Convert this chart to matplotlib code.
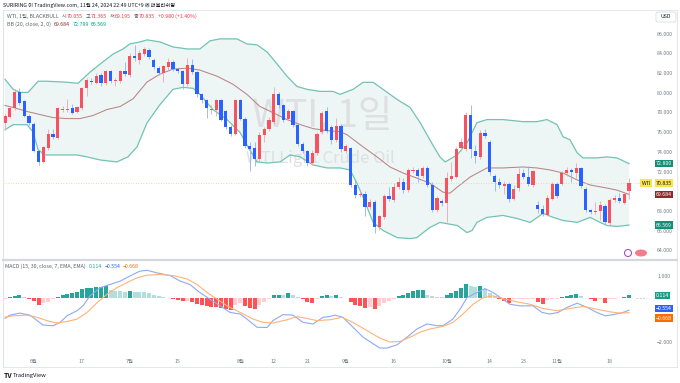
import matplotlib
matplotlib.use('Agg')
import matplotlib.pyplot as plt
import numpy as np
from matplotlib.lines import Line2D
from matplotlib.patches import Ellipse, FancyBboxPatch

plt.rcParams['font.family'] = ['Noto Sans CJK KR', 'DejaVu Sans']

# ---------------- data ----------------
opens = [76.94, 77.55, 78.48, 80.08, 79.16, 77.69, 76.84, 74.04, 73.02, 74.38,
         75.81, 75.41, 78.30, 78.30, 78.48, 78.03, 78.41, 80.45, 81.20, 81.03,
         81.78, 80.97, 82.20, 81.20, 81.20, 82.26, 81.82, 83.76, 83.35, 83.93,
         84.38, 83.35, 82.50, 81.96, 82.57, 83.08, 82.40, 82.16, 80.93, 82.84,
         82.06, 79.84, 79.26, 78.30, 78.30, 79.23, 78.13, 76.53, 75.85, 79.26,
         77.38, 74.62, 74.38, 73.26, 75.75, 76.29, 77.00, 79.84, 78.75, 77.38,
         78.20, 76.74, 74.83, 74.10, 72.85, 73.87, 75.98, 78.13, 76.53, 75.20,
         76.60, 74.14, 74.38, 70.63, 69.60, 69.70, 68.41, 68.92, 66.36, 67.38,
         69.50, 69.16, 70.39, 70.97, 70.12, 72.10, 72.16, 71.55, 72.40, 70.63,
         68.07, 69.06, 68.82, 71.21, 71.48, 74.35, 74.28, 77.79, 74.10, 73.53,
         75.92, 75.00, 71.58, 70.90, 70.56, 70.73, 69.26, 70.36, 71.82, 71.41,
         70.63, 68.58, 68.24, 67.63, 69.26, 70.73, 70.73, 71.82, 72.16, 71.89,
         72.33, 70.22, 68.07, 67.94, 67.97, 68.51, 66.77, 69.16, 69.37, 68.85,
         70.055]
highs = [77.80, 78.60, 80.35, 80.50, 79.30, 77.80, 77.00, 74.20, 74.60, 76.30,
         76.30, 78.60, 78.70, 79.40, 78.90, 78.70, 80.60, 81.50, 81.50, 82.00,
         82.00, 82.30, 82.30, 81.50, 82.30, 83.10, 84.00, 84.80, 84.30, 84.60,
         84.50, 83.50, 82.70, 82.80, 83.50, 83.30, 82.60, 82.30, 83.50, 83.40,
         82.20, 80.00, 79.40, 78.80, 79.40, 79.40, 78.30, 76.70, 79.40, 79.40,
         77.50, 75.00, 75.00, 76.00, 76.50, 77.50, 80.60, 80.10, 78.90, 78.40,
         78.30, 76.90, 75.00, 74.20, 74.20, 76.00, 78.10, 78.60, 76.70, 77.40,
         76.80, 74.80, 74.50, 71.20, 70.10, 70.00, 69.20, 69.10, 67.60, 69.70,
         70.40, 70.80, 71.50, 71.30, 72.40, 72.50, 72.40, 72.60, 72.60, 70.90,
         69.50, 69.20, 72.00, 73.00, 74.50, 75.40, 78.00, 78.80, 74.70, 76.20,
         76.30, 75.20, 71.80, 71.30, 71.00, 70.90, 70.60, 72.40, 72.30, 72.60,
         72.20, 69.00, 68.60, 69.60, 70.90, 70.90, 72.10, 72.50, 72.40, 72.90,
         72.50, 70.40, 68.20, 68.90, 69.00, 68.70, 69.30, 69.60, 69.80, 69.90,
         71.365]
lows = [76.20, 77.40, 78.30, 78.80, 77.50, 76.70, 74.00, 72.70, 72.85, 74.20,
        75.30, 75.30, 78.00, 78.00, 77.80, 77.90, 78.30, 79.70, 80.90, 80.90,
        80.70, 80.80, 81.00, 80.70, 81.00, 81.70, 81.60, 83.20, 82.90, 83.70,
        83.40, 82.40, 81.80, 81.10, 82.30, 82.20, 82.00, 80.40, 80.70, 81.90,
        79.60, 79.00, 77.40, 77.80, 77.60, 77.10, 76.30, 75.60, 75.70, 77.20,
        74.40, 72.10, 72.60, 73.10, 75.00, 76.10, 76.80, 78.50, 77.00, 77.20,
        76.50, 74.60, 73.90, 72.60, 72.70, 73.70, 75.80, 75.90, 74.80, 75.00,
        74.00, 73.90, 70.40, 69.30, 69.40, 67.50, 68.20, 65.80, 66.10, 67.20,
        69.00, 68.90, 70.20, 69.80, 69.90, 71.90, 70.90, 71.30, 70.40, 67.90,
        67.90, 68.50, 66.90, 71.00, 71.30, 74.10, 74.10, 73.40, 72.90, 73.30,
        75.40, 71.70, 70.00, 70.30, 69.70, 68.90, 69.10, 70.00, 71.20, 70.50,
        70.40, 67.80, 67.50, 67.50, 69.10, 69.30, 70.60, 71.60, 70.90, 71.40,
        70.30, 67.90, 67.70, 67.70, 67.10, 66.70, 66.60, 68.90, 68.80, 68.70,
        69.195]
closes = [77.62, 78.48, 80.08, 78.99, 77.69, 76.94, 74.14, 73.02, 74.45, 75.81,
          75.51, 78.41, 78.35, 78.40, 77.96, 78.54, 80.45, 81.27, 81.10, 81.72,
          81.03, 82.20, 81.17, 81.30, 82.20, 81.89, 83.76, 83.52, 84.00, 84.45,
          83.60, 82.57, 81.96, 82.67, 83.15, 82.40, 82.16, 80.93, 82.84, 82.06,
          79.84, 79.26, 78.41, 78.38, 79.23, 77.28, 76.53, 75.85, 79.26, 77.38,
          74.62, 74.28, 73.26, 75.75, 76.33, 77.28, 79.84, 78.75, 77.28, 78.20,
          76.74, 74.83, 74.10, 72.85, 73.87, 75.85, 77.96, 76.10, 75.17, 76.67,
          74.28, 74.55, 70.63, 69.60, 69.75, 68.41, 68.92, 66.36, 67.45, 69.50,
          69.26, 70.46, 70.97, 70.12, 72.16, 72.20, 71.55, 72.40, 70.63, 68.07,
          69.30, 68.82, 71.31, 71.55, 74.28, 74.96, 77.79, 74.28, 73.60, 75.92,
          75.65, 71.93, 70.97, 70.63, 70.73, 69.26, 70.19, 71.72, 71.41, 70.73,
          72.10, 68.24, 67.73, 69.37, 70.73, 69.54, 71.89, 72.16, 72.00, 72.33,
          70.53, 68.07, 67.90, 68.00, 68.58, 66.87, 69.16, 69.37, 69.03, 69.71,
          70.835]

bb_up_x = [0, 1.7, 3.1, 4.8, 6.9, 8.75, 12.9, 15.2, 17.7, 19.8, 22.5, 24.6, 26.0, 28.1, 29.6,
           32.3, 35.0, 37.9, 40.6, 42.7, 44.8, 48.3, 50.4, 52.5, 54.6, 56.7, 58.75, 60.8,
           62.9, 65.6, 68.3, 69.8, 72.5, 74.6, 76.7, 78.75, 81.7, 84.4, 86.5, 88.5, 90.6,
           91.7, 94.2, 96.25, 98.3, 100.4, 103.75, 107.9, 110.8, 112.9, 115.0, 116.25,
           117.7, 119.2, 120.4, 123.3, 125.4, 127.5, 130]
bb_up_y = [81.37, 80.35, 80.04, 80.04, 81.17, 81.17, 81.07, 80.96, 82.09, 82.91, 83.93, 84.45,
           84.96, 85.16, 85.37, 85.16, 84.65, 84.45, 84.45, 85.27, 85.47, 85.47, 84.96, 84.86,
           84.14, 82.91, 81.68, 80.65, 80.35, 80.14, 80.14, 79.84, 80.35, 81.06, 81.06, 80.35,
           79.32, 78.50, 76.96, 75.23, 73.49, 72.98, 73.69, 74.92, 76.96, 77.28, 77.28, 77.07,
           77.07, 77.28, 76.77, 75.54, 75.23, 73.90, 73.39, 73.39, 73.49, 73.39, 72.80]
bb_mid_x = [0, 1.7, 4.6, 7.3, 10.0, 12.9, 15.6, 18.3, 21.25, 24.0, 26.7, 29.6, 32.3, 35.0,
            37.9, 40.6, 44.2, 47.5, 50.4, 53.1, 55.8, 58.75, 61.5, 64.2, 67.1, 69.8, 71.25,
            74.6, 77.5, 80.2, 82.9, 85.8, 88.5, 91.25, 92.7, 94.2, 96.9, 100.4, 103.75, 107.9,
            110.8, 113.5, 116.25, 119.2, 121.9, 125.4, 127.5, 130]
bb_mid_y = [78.71, 78.51, 78.10, 77.79, 77.48, 77.38, 77.38, 77.69, 78.30, 78.61, 79.40, 81.10,
            81.90, 82.40, 82.50, 82.30, 81.68, 80.86, 79.84, 78.61, 77.99, 77.28, 76.77, 76.36,
            76.16, 76.05, 75.74, 74.51, 73.49, 72.47, 71.86, 71.34, 70.83, 69.91, 69.81, 70.42,
            71.45, 72.37, 72.37, 72.47, 72.37, 72.17, 71.86, 71.15, 70.64, 70.33, 70.12, 69.684]
bb_lo_x = [0, 1.7, 4.6, 5.8, 6.9, 8.3, 10.8, 15.0, 17.1, 19.8, 23.3, 25.6, 27.5, 29.6, 32.3,
           35.0, 37.1, 39.2, 40.6, 43.3, 46.25, 49.0, 50.6, 52.5, 54.6, 57.3, 59.4, 61.5, 64.2,
           67.1, 69.8, 71.9, 73.3, 74.6, 76.7, 78.75, 81.7, 84.4, 85.8, 88.5, 90.6, 94.2, 96.25,
           97.3, 98.3, 100.4, 103.75, 106.7, 109.4, 112.1, 114.2, 116.25, 119.2, 121.9, 124.0,
           125.4, 127.5, 130]
bb_lo_y = [76.25, 76.76, 76.76, 76.04, 74.21, 73.69, 73.69, 73.69, 73.49, 73.18, 72.98, 73.49,
           74.51, 76.96, 78.81, 80.35, 80.55, 80.45, 79.84, 78.30, 77.28, 75.95, 74.51, 72.98,
           72.87, 72.98, 73.69, 73.49, 72.67, 72.37, 72.37, 72.16, 70.83, 69.40, 66.84, 66.02,
           65.30, 65.20, 65.30, 66.33, 66.84, 66.53, 65.81, 66.02, 66.84, 67.35, 67.55, 67.24,
           66.84, 67.76, 67.35, 67.04, 66.84, 67.35, 66.84, 66.53, 66.43, 66.569]

macd_x = [0, 1.0, 3.1, 5.2, 6.7, 7.9, 10.0, 11.5, 12.9, 15.0, 16.25, 17.7, 19.8, 21.9, 24.0,
          26.0, 28.1, 29.6, 31.7, 34.4, 36.5, 38.5, 40.6, 42.7, 44.8, 46.9, 49.0, 50.4, 52.5,
          54.6, 55.8, 57.9, 60.0, 62.1, 64.2, 66.25, 67.7, 68.75, 70.4, 72.5, 74.6, 76.7, 78.1,
          79.6, 81.7, 83.75, 85.8, 87.9, 90.0, 91.25, 93.3, 94.8, 96.25, 98.3, 100.0, 101.7,
          103.5, 105.2, 107.3, 110.0, 111.9, 113.5, 115.2, 117.1, 119.2, 121.25, 123.3, 125.0,
          126.7, 128.75, 130]
macd_y = [-0.93, -0.78, -0.69, -0.78, -1.03, -1.23, -1.26, -1.11, -0.81, -0.58, -0.36, 0.09,
          0.46, 0.61, 0.76, 0.99, 1.21, 1.25, 1.13, 1.01, 0.76, 0.61, 0.24, -0.06, -0.36, -0.66,
          -0.73, -0.96, -1.33, -1.34, -1.03, -0.76, -0.78, -1.11, -1.18, -0.88, -0.84, -0.78,
          -0.88, -1.33, -1.78, -2.08, -2.27, -2.27, -2.12, -1.78, -1.41, -1.18, -1.26, -1.26,
          -0.96, -0.51, 0.01, 0.24, 0.42, 0.24, -0.03, -0.29, -0.36, -0.36, -0.66, -0.73, -0.66,
          -0.43, -0.24, -0.43, -0.66, -0.81, -0.76, -0.66, -0.554]
signal_x = [0, 1.7, 4.6, 6.7, 8.75, 10.8, 12.9, 15.0, 17.1, 19.2, 21.25, 23.3, 25.4, 27.5, 29.6,
            32.3, 35.0, 37.9, 40.0, 42.1, 44.2, 46.25, 49.0, 51.7, 53.75, 55.8, 58.75, 60.8,
            62.9, 65.0, 67.7, 70.2, 72.5, 75.4, 78.1, 80.2, 82.3, 84.4, 86.5, 88.5, 91.25, 93.3,
            95.4, 97.5, 99.6, 101.7, 103.75, 106.7, 109.4, 112.1, 115.0, 117.7, 120.4, 123.3,
            126.0, 128.1, 130]
signal_y = [-0.87, -0.81, -0.78, -0.88, -1.03, -1.14, -1.07, -0.96, -0.66, -0.21, 0.16, 0.46,
            0.69, 0.91, 1.03, 1.06, 1.01, 0.86, 0.61, 0.24, -0.06, -0.36, -0.66, -0.96, -1.11,
            -1.14, -0.99, -0.85, -0.93, -1.03, -0.99, -0.88, -1.11, -1.48, -1.82, -2.00, -1.97,
            -1.78, -1.55, -1.41, -1.29, -1.11, -0.73, -0.29, 0.01, 0.09, -0.03, -0.18, -0.29,
            -0.48, -0.58, -0.48, -0.39, -0.51, -0.63, -0.69, -0.668]
hist = [-0.05, 0.03, 0.10, 0.12, 0.04, -0.05, -0.15, -0.30, -0.25, -0.20,
        -0.05, 0.05, 0.12, 0.18, 0.20, 0.25, 0.40, 0.45, 0.47, 0.49,
        0.50, 0.52, 0.37, 0.33, 0.30, 0.25, 0.30, 0.25, 0.25, 0.25,
        0.20, 0.12, 0.07, 0.03, -0.02, -0.05, -0.08, -0.15, -0.12, -0.20,
        -0.28, -0.33, -0.38, -0.40, -0.42, -0.47, -0.52, -0.55, -0.30, -0.22,
        -0.35, -0.45, -0.50, -0.30, -0.20, -0.07, 0.12, 0.15, 0.12, 0.20,
        0.12, 0.03, -0.07, -0.20, -0.21, -0.05, 0.08, 0.12, 0.07, 0.12,
        0.04, 0.01, -0.20, -0.30, -0.37, -0.45, -0.43, -0.52, -0.37, -0.25,
        -0.15, -0.05, 0.07, 0.12, 0.22, 0.30, 0.34, 0.37, 0.15, 0.10,
        0.04, 0.02, 0.12, 0.20, 0.30, 0.45, 0.64, 0.55, 0.50, 0.52,
        0.40, 0.22, 0.07, -0.07, -0.15, -0.22, -0.07, -0.07, -0.06, -0.05,
        -0.05, -0.20, -0.27, -0.10, -0.05, -0.03, 0.04, 0.09, 0.15, 0.18,
        0.07, 0.01, -0.07, -0.15, -0.07, -0.22, -0.07, -0.04, -0.02, 0.04,
        0.114]

price_ticks = [64, 66, 68, 72, 74, 76, 78, 80, 82, 84, 86]
macd_ticks = [1, -2]
date_pos = [6, 16, 26, 36, 49, 56, 63, 71, 81, 92, 101, 108, 115, 126]
date_lbl = ['6월', '17', '7월', '15', '8월', '12', '21', '9월', '16', '10월', '14', '23', '11월', '18']

# ---------------- figure ----------------
W, H = 680, 383
fig = plt.figure(figsize=(W / 100, H / 100), dpi=100)
fig.patch.set_facecolor('white')


def fx(x):
    return x / W


def fy(y):
    return 1 - y / H


def add_ax(l, t, r, b):
    a = fig.add_axes([l / W, 1 - b / H, (r - l) / W, (b - t) / H])
    for s in a.spines.values():
        s.set_visible(False)
    a.set_facecolor('none')
    return a


PL, PR = 3, 647
ax = add_ax(PL, 11, PR, 258)
ax2 = add_ax(PL, 261, PR, 352)
X0 = -0.42
X1 = X0 + (PR - PL) / 4.8
for a in (ax, ax2):
    a.set_xlim(X0, X1)
ax.set_ylim(63.23, 88.30)
ax2.set_ylim(-2.45, 1.67)

GRAY = '#787B86'
SMALL = 3.8

ax.yaxis.tick_right()
ax.set_yticks(price_ticks)
ax.set_yticklabels([f'{v:.3f}' for v in price_ticks])
ax.set_xticks([])
ax.tick_params(axis='y', length=0, pad=7.3, labelsize=SMALL, labelcolor=GRAY)

ax2.yaxis.tick_right()
ax2.set_yticks(macd_ticks)
ax2.set_yticklabels([f'{v:.3f}'.replace('-', '−') for v in macd_ticks])
ax2.set_xticks(date_pos)
ax2.set_xticklabels(date_lbl)
ax2.tick_params(axis='y', length=0, pad=7.3, labelsize=SMALL, labelcolor=GRAY)
ax2.tick_params(axis='x', length=0, pad=5.0, labelsize=SMALL, labelcolor=GRAY)

# ---------------- Bollinger bands ----------------
ax.fill(np.concatenate([bb_up_x, bb_lo_x[::-1]]), np.concatenate([bb_up_y, bb_lo_y[::-1]]),
        color='#EDF5F5', lw=0, zorder=1)
ax.plot(bb_up_x, bb_up_y, color='#72C3B3', lw=0.9, zorder=2.2)
ax.plot(bb_lo_x, bb_lo_y, color='#72C3B3', lw=0.9, zorder=2.2)
ax.plot(bb_mid_x, bb_mid_y, color='#B98585', lw=0.75, zorder=2.2)

# watermark
ax.text(fx(252), fy(116), 'WTI, 1일', transform=fig.transFigure, fontsize=27,
        color='#DEDFE2', va='center', ha='left', zorder=1.5)
ax.text(fx(246), fy(158), 'WTI Light Crude Oil', transform=fig.transFigure, fontsize=12,
        color='#DEDFE2', va='center', ha='left', zorder=1.5)

# current price line
ax.axhline(closes[-1], color='#F2D45C', lw=0.6, ls=(0, (1, 2)), zorder=2.5)

# ---------------- candles ----------------
idx = np.arange(len(closes))
o = np.array(opens); c = np.array(closes); h = np.array(highs); l = np.array(lows)
up = c >= o
body_col = np.where(up, '#F7525F', '#2962FF')
wick_col = np.where(up, '#F5A3AA', '#94B0FA')
ax.vlines(idx, l, h, colors=wick_col, lw=0.6, zorder=3)
bottom = np.minimum(o, c)
height = np.maximum(np.abs(c - o), 0.07)
ax.bar(idx, height, bottom=bottom, width=0.68, color=body_col, lw=0, zorder=4)

# ---------------- MACD ----------------
hcols = []
for i, v in enumerate(hist):
    p = hist[i - 1] if i > 0 else v
    if v >= 0:
        hcols.append('#26A69A' if v > p else '#B2DFDB')
    else:
        hcols.append('#FF5252' if v < p else '#FFCDD2')
ax2.bar(np.arange(len(hist)), hist, width=0.8, color=hcols, lw=0, zorder=2)
ax2.plot(macd_x, macd_y, color='#8EA9F7', lw=0.8, zorder=3)
ax2.plot(signal_x, signal_y, color='#FFB27A', lw=0.8, zorder=3)
ax2.hlines(0, len(hist) + 0.5, X1, colors='#C9B9BE', linestyles=(0, (2, 2)), lw=0.6, zorder=2)

# ---------------- right-side value labels ----------------
XB = (656 - PL) / (PR - PL)


def rlabel(a, text, fc, tc='white', val=None, dy_px=0.0):
    tr = a.get_yaxis_transform()
    if dy_px:
        tr = tr + matplotlib.transforms.ScaledTranslation(0, -dy_px / 100, fig.dpi_scale_trans)
    a.text(XB, val, text, transform=tr, fontsize=SMALL, color=tc,
           va='center', ha='left', clip_on=False, zorder=10,
           bbox=dict(boxstyle='square,pad=0.22', fc=fc, ec='none'))


rlabel(ax, f'{bb_up_y[-1]:.3f}', '#138F78', val=bb_up_y[-1])
rlabel(ax, f'{closes[-1]:.3f}', '#F9E64F', '#131722', val=closes[-1])
rlabel(ax, f'{bb_mid_y[-1]:.3f}', '#8B2B2B', val=bb_mid_y[-1])
rlabel(ax, f'{bb_lo_y[-1]:.3f}', '#138F78', val=bb_lo_y[-1])
ax.text((651 - PL) / (PR - PL), closes[-1], 'WTI', transform=ax.get_yaxis_transform(),
        fontsize=SMALL, color='#131722', va='center', ha='right', clip_on=False, zorder=10,
        bbox=dict(boxstyle='square,pad=0.22', fc='#F9E64F', ec='none'))
rlabel(ax2, f'{hist[-1]:.3f}', '#1E9C86', val=hist[-1])
# the two MACD labels sit 2-3 px apart, so stack them like the reference does
rlabel(ax2, f'{macd_y[-1]:.3f}'.replace('-', '−'), '#2962FF', val=macd_y[-1], dy_px=-1.5)
rlabel(ax2, f'{signal_y[-1]:.3f}'.replace('-', '−'), '#FF6D00', val=signal_y[-1], dy_px=5.5)

# ---------------- frame lines ----------------
LC = '#E0E3EB'
fig.add_artist(Line2D([fx(3), fx(677)], [fy(10), fy(10)], color=LC, lw=0.6))
fig.add_artist(Line2D([fx(3), fx(3)], [fy(10), fy(367)], color=LC, lw=0.8))
fig.add_artist(Line2D([fx(677), fx(677)], [fy(10), fy(367)], color=LC, lw=0.6))
fig.add_artist(Line2D([fx(3), fx(677)], [fy(259.5), fy(259.5)], color='#D6D8DF', lw=1.6))
fig.add_artist(Line2D([fx(3), fx(677)], [fy(367), fy(367)], color=LC, lw=0.6))

# USD box
fig.add_artist(FancyBboxPatch((fx(656), fy(22)), 20 / W, 10 / H,
                              boxstyle='round,pad=0,rounding_size=0.004',
                              fc='white', ec='#D1D4DC', lw=0.5, transform=fig.transFigure))
fig.text(fx(666), fy(17), 'USD', fontsize=SMALL, color='#131722', ha='center', va='center')

# icons
fig.add_artist(Ellipse((fx(628), fy(253)), 7 / W, 7 / H, fill=False, ec='#A040C0', lw=0.7,
                       transform=fig.transFigure))
fig.add_artist(Ellipse((fx(641), fy(253)), 12 / W, 7 / H, fc='#F27C8C', ec='none',
                       transform=fig.transFigure))

# ---------------- texts ----------------
renderer = fig.canvas.get_renderer()


def seq(x, y, pieces, size=SMALL):
    for s, col, gap in pieces:
        t = fig.text(fx(x), fy(y), s, fontsize=size, color=col, va='center', ha='left')
        x += t.get_window_extent(renderer).width + gap


RED = '#F23645'
TXT = '#5D606B'
fig.text(fx(3), fy(5.5), 'SURIRING 이 TradingView.com, 11월 24, 2024 22:49 UTC+9 에 퍼블리쉬함',
         fontsize=SMALL, color='#131722', va='center', ha='left')
seq(7, 16, [('WTI, 1일, BLACKBULL', TXT, 3), ('시', TXT, 0.5), ('70.055', RED, 2.5),
            ('고', TXT, 0.5), ('71.365', RED, 2.5), ('저', TXT, 0.5), ('69.195', RED, 2.5),
            ('종', TXT, 0.5), ('70.835', RED, 2.5), ('+0.980 (+1.40%)', RED, 0)])
seq(7, 24, [('BB (20, close, 2, 0)', TXT, 3), ('69.684', '#8B2B2B', 2.5),
            ('72.799', '#089981', 2.5), ('66.569', '#089981', 0)])
seq(5, 266, [('MACD (15, 30, close, 7, EMA, EMA)', TXT, 3), ('0.114', '#26A69A', 2.5),
             ('−0.554', '#2962FF', 2.5), ('−0.668', '#FF6D00', 0)])
fig.text(fx(4), fy(376), 'TV', fontsize=5, fontweight='bold', color='#131722', va='center')
fig.text(fx(13), fy(376), 'TradingView', fontsize=4.2, color='#131722', va='center')

fig.savefig('out.png', dpi=100, facecolor='white')
